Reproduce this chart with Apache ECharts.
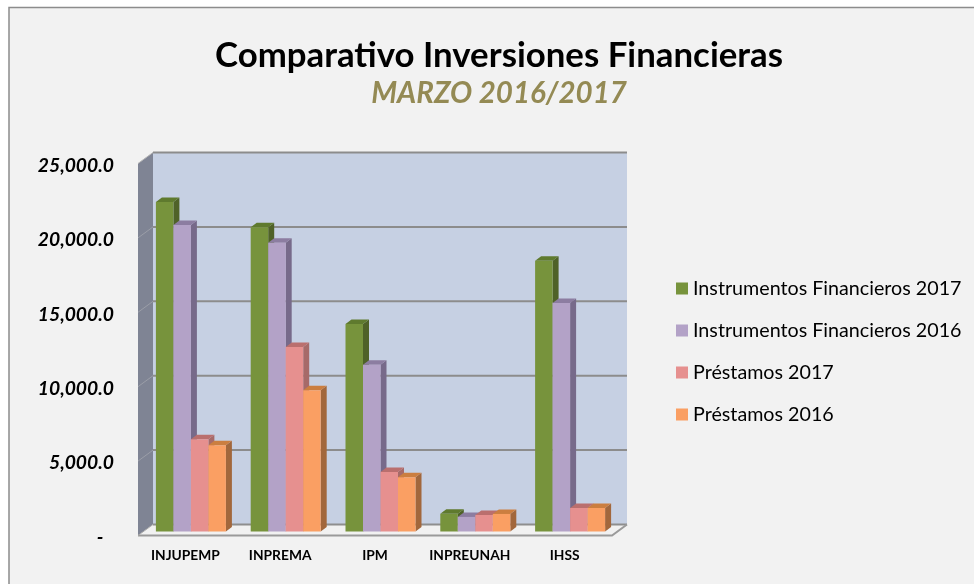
<!DOCTYPE html>
<html>
<head>
<meta charset="utf-8">
<style>
html,body{margin:0;padding:0;background:#fff;}
#main{width:974px;height:584px;}
</style>
</head>
<body>
<div id="main"></div>
<script src="https://cdn.jsdelivr.net/npm/echarts@6/dist/echarts.min.js"></script>
<script>
const categories = ['INJUPEMP', 'INPREMA', 'IPM', 'INPREUNAH', 'IHSS'];
const instrumentos2017 = [22150, 20450, 13950, 1190, 18200];
const instrumentos2016 = [20600, 19400, 11200, 980, 15350];
const prestamos2017 = [6200, 12400, 4000, 1110, 1580];
const prestamos2016 = [5800, 9500, 3650, 1180, 1580];
const gridTicks = [5000, 10000, 15000, 20000, 25000];

// front, side, top colours of each 3d bar
const seriesInfo = [
    { name: 'Instrumentos Financieros 2017', data: instrumentos2017, front: '#77933C', side: '#4F6228', top: '#5F7A2E' },
    { name: 'Instrumentos Financieros 2016', data: instrumentos2016, front: '#B3A2C7', side: '#776A8A', top: '#8C7DA1' },
    { name: 'Préstamos 2017', data: prestamos2017, front: '#E6908F', side: '#A66A69', top: '#BA6F6E' },
    { name: 'Préstamos 2016', data: prestamos2016, front: '#FA9F63', side: '#A2673C', top: '#CB7E40' }
];

const font = 'Lato, Carlito, sans-serif';
const wallDx = 15, wallDy = -11;
const barDx = 6, barDy = -4.5, barBase = -4, barShift = 5.5;

function poly(points, fill, extra) {
    return Object.assign({
        type: 'polygon',
        shape: { points: points },
        style: { fill: fill }
    }, extra || {});
}

// back wall, left wall and floor, one gridline per tick
function renderWalls(params, api) {
    const left = params.coordSys.x;
    const right = left + params.coordSys.width;
    const y0 = api.coord([0, 0])[1];
    const yTop = api.coord([0, 25000])[1];
    const y = api.coord([0, api.value(0)])[1];
    const children = [];
    if (params.dataIndex === 0) {
        children.push(poly([[left + wallDx, yTop + wallDy], [right + wallDx, yTop + wallDy], [right + wallDx, y0 + wallDy], [left + wallDx, y0 + wallDy]], '#C6D0E3'));
        children.push(poly([[left, yTop], [left + wallDx, yTop + wallDy], [left + wallDx, y0 + wallDy], [left, y0]], '#7F8494'));
        children.push(poly([[left, y0], [left + wallDx, y0 + wallDy], [right + wallDx, y0 + wallDy], [right, y0]], '#F1F1F1'));
        children.push({ type: 'line', shape: { x1: left + wallDx, y1: y0 + wallDy, x2: right + wallDx, y2: y0 + wallDy }, style: { stroke: '#8E8E8E', lineWidth: 2 } });
        children.push({ type: 'polyline', shape: { points: [[left, y0], [right, y0], [right + wallDx, y0 + wallDy]] }, style: { fill: null, stroke: '#9A9A9A', lineWidth: 2 } });
        children.push({ type: 'line', shape: { x1: left, y1: y0, x2: left + wallDx, y2: y0 + wallDy }, style: { stroke: '#A8A8A8', lineWidth: 1 } });
        children.push({ type: 'polyline', shape: { points: [[left, yTop], [left + wallDx, yTop + wallDy]] }, style: { fill: null, stroke: '#B5B5B5', lineWidth: 1 } });
    }
    children.push({ type: 'line', shape: { x1: left + wallDx, y1: y + wallDy, x2: right + wallDx, y2: y + wallDy }, style: { stroke: '#8C8C8C', lineWidth: 2 } });
    if (api.value(0) < 25000) {
        children.push({ type: 'line', shape: { x1: left, y1: y, x2: left + wallDx, y2: y + wallDy }, style: { stroke: '#9B9EA8', lineWidth: 1 } });
    }
    return { type: 'group', children: children };
}

function renderBar(info, index) {
    return function (params, api) {
        const band = api.size([1, 0])[0];
        const w = band * 0.1846;
        const c = api.coord([api.value(0), 0]);
        const top = api.coord([api.value(0), api.value(1)])[1] + barBase;
        const base = c[1] + barBase;
        const x = c[0] + barShift - 2 * w + index * w;
        return {
            type: 'group',
            children: [
                poly([[x + w, top], [x + w + barDx, top + barDy], [x + w + barDx, base + barDy], [x + w, base]], info.side),
                poly([[x, top], [x + barDx, top + barDy], [x + w + barDx, top + barDy], [x + w, top]], info.top),
                { type: 'rect', shape: { x: x, y: top, width: w, height: base - top }, style: { fill: info.front } }
            ]
        };
    };
}

const chart = echarts.init(document.getElementById('main'));

const series = [{
    type: 'custom',
    name: 'walls',
    silent: true,
    clip: false,
    renderItem: renderWalls,
    encode: { y: 0 },
    data: gridTicks.map(function (t) { return [t]; }),
    z: 1
}];
seriesInfo.forEach(function (info, i) {
    series.push({
        type: 'custom',
        name: info.name,
        clip: false,
        renderItem: renderBar(info, i),
        itemStyle: { color: info.front },
        encode: { x: 0, y: 1 },
        data: categories.map(function (c, k) { return [k, info.data[k]]; }),
        z: 2 + i
    });
});

chart.setOption({
    animation: false,
    backgroundColor: '#fff',
    graphic: [
        { type: 'rect', z: -10, shape: { x: 9, y: 7, width: 965, height: 577 }, style: { fill: '#F2F2F2' } },
        { type: 'polyline', z: -9, shape: { points: [[9, 584], [9, 7.5], [974, 7.5]] }, style: { fill: null, stroke: '#8C8C8C', lineWidth: 1.5 } }
    ],
    title: [{
        text: 'Comparativo Inversiones Financieras',
        left: 494,
        top: 33,
        textAlign: 'center',
        textStyle: { fontFamily: font, fontWeight: 'bold', fontSize: 34.8, color: '#000' }
    }, {
        text: 'MARZO 2016/2017',
        left: 494,
        top: 73,
        textAlign: 'center',
        textStyle: { fontFamily: font, fontWeight: 'bold', fontStyle: 'italic', fontSize: 29.5, color: '#948A54' }
    }],
    legend: {
        orient: 'vertical',
        left: 671,
        top: 273.5,
        itemWidth: 12,
        itemHeight: 12,
        itemGap: 22,
        icon: 'rect',
        selectedMode: false,
        data: seriesInfo.map(function (s) { return s.name; }),
        textStyle: { fontFamily: font, fontSize: 19.7, color: '#000', padding: 0 }
    },
    grid: { left: 138, top: 163.5, width: 474, height: 372 },
    xAxis: {
        type: 'category',
        data: categories,
        axisLine: { show: false },
        axisTick: { show: false },
        axisLabel: { fontFamily: font, fontWeight: 'bold', fontSize: 13.8, color: '#000', margin: 13, interval: 0 }
    },
    yAxis: {
        type: 'value',
        min: 0,
        max: 25000,
        interval: 5000,
        splitLine: { show: false },
        axisLine: { show: false },
        axisTick: { show: false },
        axisLabel: {
            fontFamily: font,
            fontWeight: 'bold',
            fontStyle: 'italic',
            fontSize: 19.3,
            color: '#000',
            margin: 24,
            verticalAlign: 'top',
            lineHeight: 4,
            formatter: function (v) {
                if (v === 0) return '-\u00a0\u00a0\u2009';
                return v.toLocaleString('en-US', { minimumFractionDigits: 1 });
            }
        }
    },
    series: series
});
</script>
</body>
</html>
